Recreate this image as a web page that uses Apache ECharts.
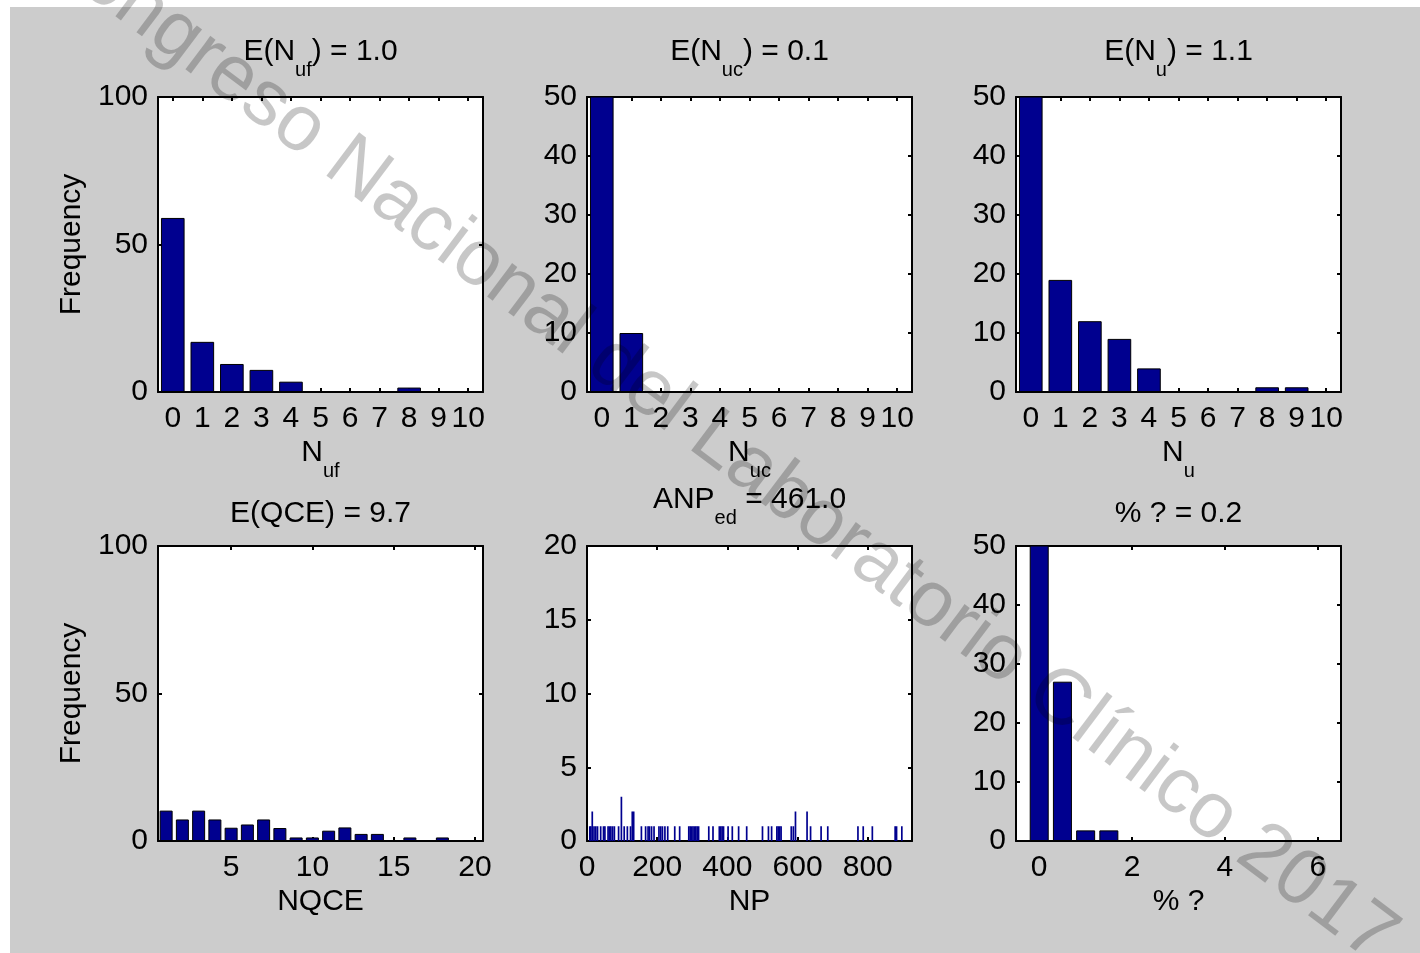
<!DOCTYPE html>
<html>
<head>
<meta charset="utf-8">
<title>Histogramas</title>
<script src="https://cdn.jsdelivr.net/npm/echarts@6/dist/echarts.min.js"></script>
<style>
    html, body { margin: 0; padding: 0; background: #fff; }
    #chart { width: 1420px; height: 953px; }
</style>
</head>
<body>
<div id="chart"></div>
<script>
    // --- data ---
    var intBins = ['0', '1', '2', '3', '4', '5', '6', '7', '8', '9', '10'];
    var nufCounts = [59, 17, 9.5, 7.5, 3.5, 0, 0, 0, 1.5, 0, 0];
    var nucCounts = [90, 10, 0, 0, 0, 0, 0, 0, 0, 0, 0];
    var nuCounts = [57, 19, 12, 9, 4, 0, 0, 0, 0.8, 0.8, 0];

    var nqceBins = ['1', '2', '3', '4', '5', '6', '7', '8', '9', '10',
        '11', '12', '13', '14', '15', '16', '17', '18', '19', '20'];
    var nqceCounts = [10.3, 7.3, 10.3, 7.3, 4.5, 5.6, 7.3, 4.4, 1.2, 1.2, 3.5, 4.6, 2.4, 2.4, 0, 1.2, 0, 1.2, 0, 0];

    var npValues = [8, 11, 15, 20, 25, 30, 39, 47, 51, 60, 64, 68, 73, 78, 90, 98, 106, 115,
        124, 129, 133, 155, 167, 174, 178, 184, 191, 205, 210, 215, 222, 230, 250, 264,
        290, 294, 298, 302, 306, 310, 314, 318, 347, 359, 377, 381, 385, 389,
        402, 414, 432, 455, 500, 517, 526, 541, 545, 549, 553, 582, 588, 594,
        627, 637, 667, 686, 772, 787, 813, 878, 882, 897];
    var npCounts = [1, 1, 2, 1, 1, 1, 1, 1, 1, 1, 1, 1, 1, 1, 1, 3, 1, 1,
        1, 2, 2, 1, 1, 1, 1, 1, 1, 1, 1, 1, 1, 1, 1, 1,
        1, 1, 1, 1, 1, 1, 1, 1, 1, 1, 1, 1, 1, 1,
        1, 1, 1, 1, 1, 1, 1, 1, 1, 1, 1, 1, 1, 2,
        2, 1, 1, 1, 1, 1, 1, 1, 1, 1];
    var npTicks = [0, 200, 400, 600, 800];

    var pctValues = [0, 0.5, 1, 1.5];
    var pctCounts = [70, 27, 1.8, 1.8];
    var pctTicks = [0, 2, 4, 6];

    var titles = [
        '{m|E(N}{s|uf}{m|) = 1.0}', '{m|E(N}{s|uc}{m|) = 0.1}', '{m|E(N}{s|u}{m|) = 1.1}',
        '{m|E(QCE) = 9.7}', '{m|ANP}{s|ed}{m| = 461.0}', '{m|% ? = 0.2}'
    ];
    var xNames = [
        '{m|N}{s|uf}', '{m|N}{s|uc}', '{m|N}{s|u}',
        '{m|NQCE}', '{m|NP}', '{m|% ?}'
    ];
    var yName = 'Frequency';

    // --- layout ---
    var FONT = '"Liberation Sans", Arial, sans-serif';
    var NAVY = '#00008f';
    var lefts = [158, 587, 1016, 158, 587, 1016];
    var tops = [97, 97, 97, 546, 546, 546];
    var W = 325, H = 295;

    var rich = {
        m: { fontSize: 30, fontFamily: FONT, lineHeight: 32, verticalAlign: 'top', color: '#000' },
        s: { fontSize: 20, fontFamily: FONT, lineHeight: 20, padding: [23, 0, 0, 0], verticalAlign: 'top', color: '#000' }
    };

    var lineStyle = { color: '#000', width: 2 };
    var tickStyle = { show: true, inside: true, length: 4, lineStyle: { color: '#000', width: 2 } };
    var labelStyle = { color: '#000', fontSize: 30, fontFamily: FONT };

    var grids = [], xAxes = [], yAxes = [], series = [];

    function addGrid(i) {
        grids.push({
            left: lefts[i], top: tops[i], width: W, height: H,
            show: true, backgroundColor: '#fff', borderWidth: 0
        });
    }

    function addCategoryX(i, cats, showFn) {
        ['bottom', 'top'].forEach(function (pos) {
            xAxes.push({
                gridIndex: i, type: 'category', position: pos, data: cats,
                boundaryGap: true,
                axisLine: { show: true, onZero: false, lineStyle: lineStyle },
                axisTick: Object.assign({}, tickStyle, { alignWithLabel: true, interval: showFn || 0 }),
                axisLabel: Object.assign({}, labelStyle, {
                    show: pos === 'bottom', interval: showFn || 0, margin: 12
                }),
                splitLine: { show: false }
            });
        });
    }

    function addValueX(i, min, max, ticks) {
        ['bottom', 'top'].forEach(function (pos) {
            xAxes.push({
                gridIndex: i, type: 'value', position: pos, min: min, max: max,
                axisLine: { show: true, onZero: false, lineStyle: lineStyle },
                axisTick: Object.assign({}, tickStyle, { customValues: ticks }),
                axisLabel: Object.assign({}, labelStyle, {
                    show: pos === 'bottom', customValues: ticks, margin: 12
                }),
                splitLine: { show: false }
            });
        });
    }

    function addValueY(i, max, interval) {
        ['left', 'right'].forEach(function (pos) {
            yAxes.push({
                gridIndex: i, type: 'value', position: pos, min: 0, max: max, interval: interval,
                axisLine: { show: true, onZero: false, lineStyle: lineStyle },
                axisTick: tickStyle,
                axisLabel: Object.assign({}, labelStyle, { show: pos === 'left', margin: 10 }),
                splitLine: { show: false }
            });
        });
    }

    function addBars(i, data, width, border) {
        series.push({
            type: 'bar', xAxisIndex: 2 * i, yAxisIndex: 2 * i,
            data: data, barWidth: width, clip: true, silent: true,
            itemStyle: { color: NAVY, borderColor: '#000', borderWidth: border ? 1 : 0 }
        });
    }

    // panel 1-3: integer histograms
    var topCounts = [nufCounts, nucCounts, nuCounts];
    var topMax = [100, 50, 50];
    var topInterval = [50, 10, 10];
    for (var k = 0; k < 3; k++) {
        addGrid(k);
        addCategoryX(k, intBins, null);
        addValueY(k, topMax[k], topInterval[k]);
        addBars(k, topCounts[k], '80%', true);
    }

    // panel 4: NQCE
    addGrid(3);
    addCategoryX(3, nqceBins, function (idx, val) { return +val % 5 === 0; });
    addValueY(3, 100, 50);
    addBars(3, nqceCounts, '80%', true);

    // panel 5: NP
    addGrid(4);
    addValueX(4, 0, 926, npTicks);
    addValueY(4, 20, 5);
    addBars(4, npValues.map(function (v, j) { return [v, npCounts[j]]; }), 1.7, false);

    // panel 6: % ?
    addGrid(5);
    addValueX(5, -0.5, 6.5, pctTicks);
    addValueY(5, 50, 10);
    addBars(5, pctValues.map(function (v, j) { return [v, pctCounts[j]]; }), 19, true);

    // text
    var graphics = [
        { type: 'rect', shape: { x: 0, y: 0, width: 1420, height: 7 }, style: { fill: '#fff' }, silent: true },
        { type: 'rect', shape: { x: 0, y: 0, width: 10, height: 953 }, style: { fill: '#fff' }, silent: true }
    ];
    var titleTops = [37, 37, 37, 499, 485, 499];
    var nameTops = [438, 438, 438, 887, 887, 887];
    for (var p = 0; p < 6; p++) {
        var cx = lefts[p] + W / 2;
        graphics.push({
            type: 'text', x: cx, y: titleTops[p], silent: true,
            style: { text: titles[p], rich: rich, align: 'center', verticalAlign: 'top' }
        });
        graphics.push({
            type: 'text', x: cx, y: nameTops[p], silent: true,
            style: { text: xNames[p], rich: rich, align: 'center', verticalAlign: 'top' }
        });
    }
    [97, 546].forEach(function (t) {
        graphics.push({
            type: 'text', x: 72, y: t + H / 2, rotation: Math.PI / 2, silent: true,
            style: { text: yName, fill: '#000', fontSize: 30, fontFamily: FONT, align: 'center', verticalAlign: 'middle' }
        });
    });
    // watermark
    graphics.push({
        type: 'text', x: 715, y: 441, rotation: -37 * Math.PI / 180, z: 100, silent: true,
        style: {
            text: 'Congreso Nacional del Laboratorio Clínico 2017',
            fill: 'rgba(0,0,0,0.22)', fontSize: 79, fontFamily: FONT,
            align: 'center', verticalAlign: 'middle'
        }
    });

    var myChart = echarts.init(document.getElementById('chart'), null, { renderer: 'canvas' });
    myChart.setOption({
        backgroundColor: '#cccccc',
        animation: false,
        grid: grids,
        xAxis: xAxes,
        yAxis: yAxes,
        series: series,
        graphic: graphics
    });
</script>
</body>
</html>
